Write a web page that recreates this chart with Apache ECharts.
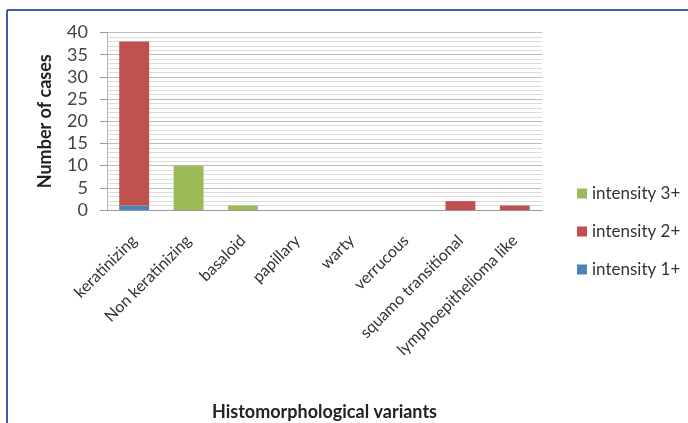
<!DOCTYPE html>
<html>
<head>
<meta charset="utf-8">
<script src="https://cdn.jsdelivr.net/npm/echarts@6/dist/echarts.min.js"></script>
<style>
  html, body { margin: 0; padding: 0; background: #fff; }
  #chart { width: 688px; height: 423px; }
</style>
</head>
<body>
<div id="chart"></div>
<script>
// Histomorphological variants and case counts by staining intensity
const categories = ['keratinizing', 'Non keratinizing', 'basaloid', 'papillary', 'warty', 'verrucous', 'squamo transitional', 'lymphoepithelioma like'];
const intensity1 = [1, 0, 0, 0, 0, 0, 0, 0];
const intensity2 = [37, 0, 0, 0, 0, 0, 2, 1];
const intensity3 = [0, 10, 1, 0, 0, 0, 0, 0];
const yTicks = [0, 5, 10, 15, 20, 25, 30, 35, 40];

const FONT = 'Lato, "Open Sans", sans-serif';
const chart = echarts.init(document.getElementById('chart'), null, { renderer: 'canvas' });

function stackSeries(name, data, color) {
  return {
    name: name,
    type: 'bar',
    stack: 'total',
    barWidth: '55%',
    data: data.map(v => (v === 0 ? null : v)),
    itemStyle: { color: color },
    emphasis: { disabled: true }
  };
}

chart.setOption({
  animation: false,
  backgroundColor: '#ffffff',
  textStyle: { fontFamily: FONT },
  graphic: [
    { type: 'line', shape: { x1: 7, y1: 10, x2: 688, y2: 10 }, style: { stroke: '#3c5fa8', lineWidth: 2 } },
    { type: 'line', shape: { x1: 7, y1: 10, x2: 7, y2: 423 }, style: { stroke: '#3c5fa8', lineWidth: 2 } }
  ],
  grid: { left: 107, top: 32.5, width: 435, height: 177.5, containLabel: false },
  legend: {
    orient: 'vertical',
    left: 572,
    top: 180,
    itemWidth: 10,
    itemHeight: 10,
    itemGap: 21,
    icon: 'rect',
    data: ['intensity 3+', 'intensity 2+', 'intensity 1+'],
    textStyle: { fontFamily: FONT, fontSize: 17, color: '#333' }
  },
  xAxis: {
    type: 'category',
    data: categories,
    name: 'Histomorphological variants',
    nameLocation: 'middle',
    nameGap: 193,
    nameTextStyle: { fontFamily: FONT, fontSize: 18, fontWeight: 'bold', color: '#222' },
    axisLine: { show: true, lineStyle: { color: '#9a9a9a', width: 1 } },
    axisTick: { show: false },
    axisLabel: { rotate: 45, interval: 0, fontSize: 16, color: '#333', fontFamily: FONT, margin: 28 }
  },
  yAxis: {
    type: 'value',
    min: 0,
    max: 40,
    interval: 5,
    name: 'Number of cases',
    nameLocation: 'middle',
    nameGap: 53,
    nameRotate: 90,
    nameTextStyle: { fontFamily: FONT, fontSize: 18, fontWeight: 'bold', color: '#222' },
    axisLine: { show: true, lineStyle: { color: '#b5b5b5', width: 1 } },
    axisTick: { show: true, inside: false, length: 7, lineStyle: { color: '#9a9a9a' } },
    axisLabel: {
      fontSize: 18, color: '#444', fontFamily: FONT, margin: 19,
      formatter: v => (yTicks.includes(v) ? String(v) : '')
    },
    splitLine: { show: true, lineStyle: { color: '#bdbdbd', width: 1 } },
    minorTick: { show: false, splitNumber: 5 },
    minorSplitLine: { show: true, lineStyle: { color: '#dcdcdc', width: 1 } }
  },
  series: [
    stackSeries('intensity 1+', intensity1, '#4f81bd'),
    stackSeries('intensity 2+', intensity2, '#c0504d'),
    stackSeries('intensity 3+', intensity3, '#9bbb59')
  ]
});
</script>
</body>
</html>
